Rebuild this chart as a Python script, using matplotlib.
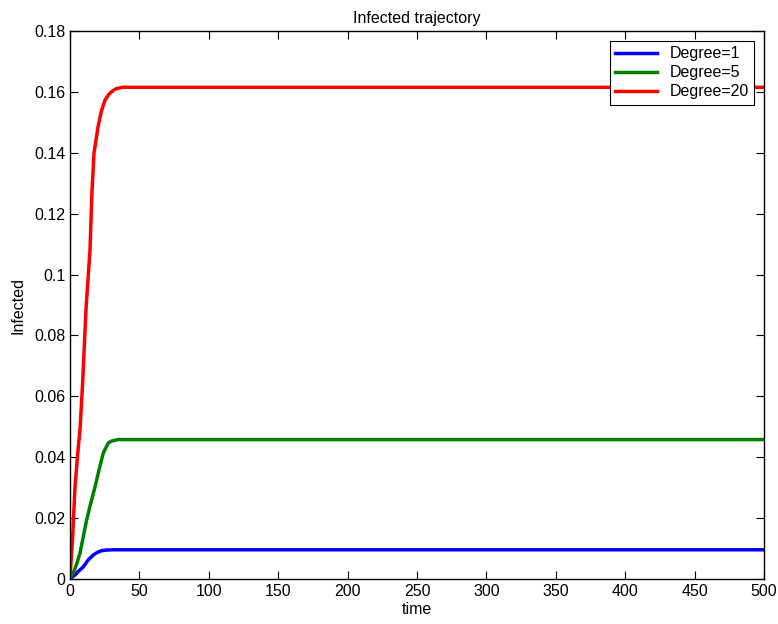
import matplotlib.pyplot as plt
from matplotlib.ticker import FuncFormatter

plt.rcParams['font.family'] = ['Liberation Sans', 'DejaVu Sans']

# infected fraction over time for three network degrees
t_deg1 = [0, 3.6, 6, 9.6, 13, 16.8, 20, 22.8, 26, 31, 500]
y_deg1 = [0.0002, 0.0013, 0.0025, 0.0040, 0.0062, 0.0079, 0.0088, 0.0093,
          0.0095, 0.0096, 0.0096]

t_deg5 = [0, 2.4, 4.5, 7.2, 12, 15, 18, 21, 24, 27.6, 30, 34.6, 500]
y_deg5 = [0.0003, 0.0020, 0.0045, 0.0085, 0.0194, 0.0250, 0.0302, 0.0360,
          0.0414, 0.0447, 0.0453, 0.0458, 0.0458]

t_deg20 = [0, 1.9, 3.6, 5.8, 7.2, 9.1, 11.5, 14.4, 15.8, 17.3, 20.2, 22.5,
           25.2, 28, 30.3, 33, 37.5, 500]
y_deg20 = [0.0005, 0.0138, 0.0302, 0.0424, 0.0490, 0.0644, 0.0884, 0.1080,
           0.1268, 0.1399, 0.1485, 0.1535, 0.1573, 0.1592, 0.1602, 0.1610,
           0.1615, 0.1615]

fig = plt.figure(figsize=(7.78, 6.24), dpi=100)
ax = fig.add_axes((70 / 778, 1 - 579 / 624, 694 / 778, 548 / 624))

ax.plot(t_deg1, y_deg1, color='#0000ff', lw=2.5, label='Degree=1')
ax.plot(t_deg5, y_deg5, color='#008000', lw=2.5, label='Degree=5')
ax.plot(t_deg20, y_deg20, color='#ff0000', lw=2.5, label='Degree=20')

ax.set_xlim(0, 500)
ax.set_ylim(0, 0.18)
ax.set_xticks(range(0, 501, 50))
ax.set_yticks([i * 0.02 for i in range(10)])
ax.yaxis.set_major_formatter(FuncFormatter(lambda v, p: '%g' % round(v, 2)))
ax.tick_params(direction='in', top=True, right=True, length=6, width=0.8,
               labelsize=11.5)
for s in ax.spines.values():
    s.set_linewidth(1.0)

ax.set_xlabel('time', fontsize=11.5, labelpad=2)
ax.set_ylabel('Infected', fontsize=11.5, labelpad=6)
ax.set_title('Infected trajectory', fontsize=11.5, pad=6)

leg = ax.legend(loc='upper right', fontsize=11.5, fancybox=False,
                framealpha=1, edgecolor='black', borderaxespad=0.6,
                handlelength=2.6, labelspacing=0.25, borderpad=0.35)
leg.get_frame().set_linewidth(0.8)

fig.savefig('out.png', dpi=100)
